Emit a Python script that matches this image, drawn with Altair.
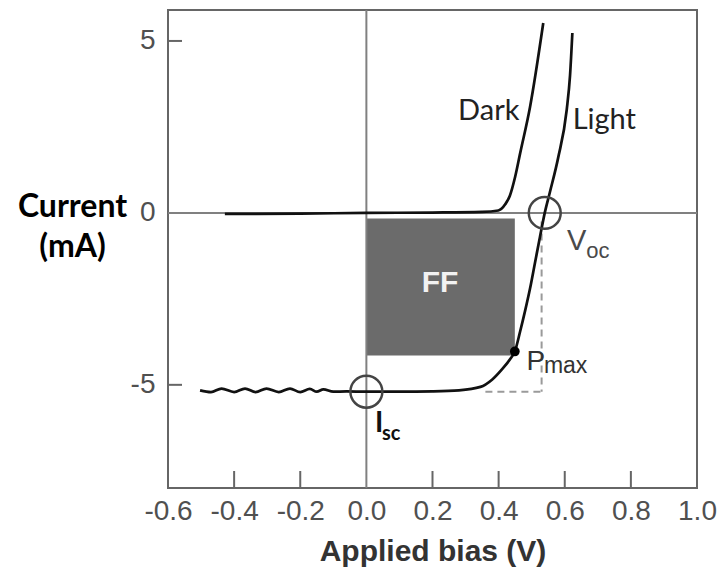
import altair as alt
import pandas as pd

# ---- data ----
x_ticks = [-0.6, -0.4, -0.2, 0.0, 0.2, 0.4, 0.6, 0.8, 1.0]
y_ticks = [-5, 0, 5]
inner_x_ticks = [-0.4, -0.2, 0.2, 0.4, 0.6, 0.8]
inner_y_ticks = [-5, 5]

dark_v = [-0.428, -0.2, 0.0, 0.2, 0.35, 0.399, 0.42, 0.434, 0.45, 0.465, 0.495, 0.535]
dark_i = [-0.03, -0.02, 0.0, 0.01, 0.03, 0.07, 0.25, 0.5, 1.05, 1.73, 3.08, 5.52]

light_v = [-0.503, -0.47, -0.438, -0.40, -0.367, -0.335, -0.302, -0.265, -0.231, -0.20,
           -0.171, -0.15, -0.13, -0.10, -0.06, 0.0, 0.10, 0.20, 0.28, 0.345, 0.38, 0.41,
           0.435, 0.449, 0.465, 0.48, 0.495, 0.51, 0.525, 0.5395, 0.555, 0.58, 0.606,
           0.616, 0.623]
light_i = [-5.16, -5.21, -5.11, -5.21, -5.11, -5.21, -5.11, -5.21, -5.11, -5.21,
           -5.12, -5.20, -5.13, -5.20, -5.19, -5.20, -5.20, -5.19, -5.16, -5.06, -4.85, -4.55,
           -4.25, -4.03, -3.45, -2.85, -2.2, -1.45, -0.7, 0.0, 0.6, 1.6, 3.0,
           4.0, 5.23]

ff_v = [0.0, 0.449]
ff_i = [-0.16, -4.15]
circle_v = [0.0, 0.5395]
circle_i = [-5.2, 0.0]
pmax_v = [0.449]
pmax_i = [-4.03]
dash_v_line = [0.530, -0.25, -5.2]      # x, from, to
dash_h_line = [-5.2, 0.36, 0.530]       # y, from, to

xs = alt.Scale(domain=[-0.6, 1.0], nice=False, zero=False)
ys = alt.Scale(domain=[-8.0, 5.9], nice=False, zero=False)

curves = pd.concat([
    pd.DataFrame({"v": dark_v, "i": dark_i, "s": "Dark", "o": range(len(dark_v))}),
    pd.DataFrame({"v": light_v, "i": light_i, "s": "Light", "o": range(len(light_v))}),
])

x_axis = alt.Axis(
    values=x_ticks, tickSize=0, domain=False, grid=False,
    labelExpr="datum.value < 0 ? '-' + format(-datum.value, '.1f') : format(datum.value, '.1f')",
    labelFont="Liberation Sans", labelFontSize=28, labelColor="#505050",
    labelPadding=31, labelBaseline="alphabetic", labelOverlap=False, labelFlush=False,
    title="Applied bias (V)", titleFont="Liberation Sans", titleFontSize=30,
    titleFontWeight="bold", titleColor="#333333", titleY=72, titleBaseline="alphabetic",
)
y_axis = alt.Axis(
    values=y_ticks, tickSize=0, domain=False, grid=False,
    labelExpr="datum.value < 0 ? '-' + format(-datum.value, 'd') : format(datum.value, 'd')",
    labelFont="Liberation Sans", labelFontSize=28, labelColor="#505050",
    labelPadding=13, labelOverlap=False, labelFlush=False,
    title=["Current", "(mA)"], titleAngle=0, titleX=-96, titleY=206,
    titleAlign="center", titleBaseline="alphabetic", titleFont="Lato",
    titleFontSize=32, titleFontWeight="bold", titleColor="#000000", titleLineHeight=40,
)


def X(f):
    return alt.X(f, scale=xs, axis=x_axis)


def Y(f):
    return alt.Y(f, scale=ys, axis=y_axis)


ff = alt.Chart(pd.DataFrame({"v0": [ff_v[0]], "v1": [ff_v[1]], "i0": [ff_i[0]], "i1": [ff_i[1]]})).mark_rect(
    color="#6b6b6b"
).encode(x=X("v0:Q"), x2="v1:Q", y=Y("i0:Q"), y2="i1:Q")

zero_h = alt.Chart(pd.DataFrame({"i": [0.0]})).mark_rule(color="#808080", strokeWidth=2).encode(
    y=Y("i:Q"))
zero_v = alt.Chart(pd.DataFrame({"v": [0.0]})).mark_rule(color="#808080", strokeWidth=2).encode(
    x=X("v:Q"))

dash_v = alt.Chart(pd.DataFrame({"v": [dash_v_line[0]], "i0": [dash_v_line[1]], "i1": [dash_v_line[2]]})).mark_rule(
    color="#9a9a9a", strokeWidth=2, strokeDash=[7, 5]
).encode(x=X("v:Q"), y=Y("i0:Q"), y2="i1:Q")
dash_h = alt.Chart(pd.DataFrame({"i": [dash_h_line[0]], "v0": [dash_h_line[1]], "v1": [dash_h_line[2]]})).mark_rule(
    color="#9a9a9a", strokeWidth=2, strokeDash=[7, 5]
).encode(y=Y("i:Q"), x=X("v0:Q"), x2="v1:Q")

lines = alt.Chart(curves).mark_line(color="#111111", strokeWidth=2.7, interpolate="monotone").encode(
    x=X("v:Q"), y=Y("i:Q"), detail="s:N", order="o:Q",
)

circles = alt.Chart(pd.DataFrame({"v": circle_v, "i": circle_i})).mark_point(
    shape="circle", size=1020, filled=False, stroke="#444444", strokeWidth=2.5, opacity=1
).encode(x=X("v:Q"), y=Y("i:Q"))

pmax = alt.Chart(pd.DataFrame({"v": pmax_v, "i": pmax_i})).mark_circle(
    size=95, color="#000000", opacity=1
).encode(x=X("v:Q"), y=Y("i:Q"))


def label(texts, vs, is_, **kw):
    return alt.Chart(pd.DataFrame({"t": texts, "v": vs, "i": is_})).mark_text(**kw).encode(
        x=X("v:Q"), y=Y("i:Q"), text="t:N")


dark_lbl = label(["Dark"], [0.463], [2.69], align="right", baseline="alphabetic",
                 font="Lato", fontSize=29, color="#222222")
light_lbl = label(["Light"], [0.624], [2.45], align="left", baseline="alphabetic",
                  font="Lato", fontSize=29, color="#222222")
ff_lbl = label(["FF"], [0.2226], [-2.05], align="center", baseline="middle",
               font="Liberation Sans", fontSize=30, fontWeight="bold", color="#f2f2f2")
v_lbl = label(["V"], [0.607], [-1.09], align="left", baseline="alphabetic",
              font="Liberation Sans", fontSize=29, color="#4a4a4a")
oc_lbl = label(["oc"], [0.665], [-1.32], align="left", baseline="alphabetic",
               font="Liberation Sans", fontSize=22, color="#4a4a4a")
p_lbl = label(["P"], [0.484], [-4.57], align="left", baseline="alphabetic",
              font="Liberation Sans", fontSize=28, color="#333333")
max_lbl = label(["max"], [0.537], [-4.66], align="left", baseline="alphabetic",
                font="Liberation Sans", fontSize=23, color="#333333")
i_lbl = label(["I"], [0.026], [-6.37], align="left", baseline="alphabetic",
              font="Lato", fontSize=28, fontWeight="bold", color="#111111")
sc_lbl = label(["sc"], [0.047], [-6.61], align="left", baseline="alphabetic",
               font="Lato", fontSize=20, fontWeight="bold", color="#111111")

xtick = alt.Chart(pd.DataFrame({"v": inner_x_ticks})).mark_rule(color="#666666", strokeWidth=2).encode(
    x=X("v:Q"), y=alt.value(478), y2=alt.value(461))
ytick = alt.Chart(pd.DataFrame({"i": inner_y_ticks})).mark_rule(color="#666666", strokeWidth=2).encode(
    y=Y("i:Q"), x=alt.value(0), x2=alt.value(14))

chart = alt.layer(
    ff, zero_h, zero_v, dash_v, dash_h, lines, circles, pmax,
    dark_lbl, light_lbl, ff_lbl, v_lbl, oc_lbl, p_lbl, max_lbl, i_lbl, sc_lbl,
    xtick, ytick,
).properties(
    width=529, height=478,
    autosize=alt.AutoSizeParams(type="none"),
    padding={"left": 168, "top": 10, "right": 23, "bottom": 82},
    background="white",
).configure_view(stroke="#666666", strokeWidth=2)

chart.save("out.html", embed_options={"renderer": "svg", "actions": False})
